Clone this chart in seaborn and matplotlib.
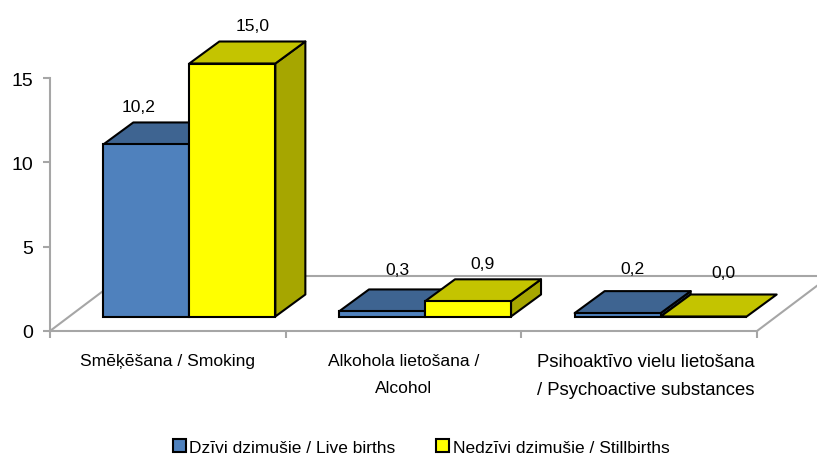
import pandas as pd
import matplotlib.pyplot as plt
import seaborn as sns
from matplotlib.patches import Polygon
from matplotlib.transforms import ScaledTranslation

categories = ['Smēķēšana / Smoking', 'Alkohola lietošana /\nAlcohol',
              'Psihoaktīvo vielu lietošana\n/ Psychoactive substances']
live_births = [10.2, 0.3, 0.2]
stillbirths = [15.0, 0.9, 0.0]
series_names = ['Dzīvi dzimušie / Live births', 'Nedzīvi dzimušie / Stillbirths']
value_labels = [['10,2', '0,3', '0,2'], ['15,0', '0,9', '0,0']]

sns.set_theme(style='white')
plt.rcParams['font.family'] = ['Liberation Sans', 'DejaVu Sans']
plt.rcParams['text.color'] = 'black'
plt.rcParams['xtick.labelcolor'] = 'black'
plt.rcParams['ytick.labelcolor'] = 'black'

df = pd.DataFrame({
    'category': categories * 2,
    'series': [series_names[0]] * 3 + [series_names[1]] * 3,
    'value': live_births + stillbirths,
})

W, H = 817, 456
fig = plt.figure(figsize=(W / 100, H / 100), dpi=100)
ax = fig.add_axes([50 / W, (H - 332) / H, 707 / W, 253 / H])

sns.barplot(data=df, x='category', y='value', hue='series', order=categories,
            palette=['#4F81BD', '#FFFF00'], saturation=1, width=0.73, gap=0,
            errorbar=None, edgecolor='black', linewidth=1.5, ax=ax)

ax.set_xlim(-0.5, 2.5)
ax.set_ylim(0, 15)
ax.set_xlabel('')
ax.set_ylabel('')

# pseudo 3d: one category = 235.67 px, one unit = 16.87 px
px_x = 3 / 707
px_y = 15 / 253
floor_dx, floor_dy = 73 * px_x, 55 * px_y     # full floor depth
shift_x, shift_y = 21.5 * px_x, 14.5 * px_y   # where the bars stand on it
depth_x, depth_y = 30 * px_x, 22 * px_y       # bar depth
grey = '#A6A6A6'

for xs, ys in [([-0.5, -0.5 + floor_dx], [0, floor_dy]),
               ([2.5, 2.5 + floor_dx], [0, floor_dy]),
               ([-0.5 + floor_dx, 2.5 + floor_dx], [floor_dy, floor_dy])]:
    ax.plot(xs, ys, color=grey, lw=1.5, clip_on=False, zorder=1)

top_colors = ['#3E6491', '#C4C400']
side_colors = ['#2F4D70', '#A6A600']
label_nudge = [[(-8, 16), (15, 20), (15, 23)], [(20, 16), (15, 16), (20, 22)]]

for s, container in enumerate(ax.containers):
    for c, bar in enumerate(container):
        x0 = bar.get_x() + shift_x
        w = bar.get_width()
        h = bar.get_height()
        bar.set_x(x0)
        bar.set_y(shift_y)
        bar.set_zorder(2.5 + 2 * s)
        bar.set_clip_on(False)
        y1 = shift_y + h
        top = [(x0, y1), (x0 + depth_x, y1 + depth_y),
               (x0 + w + depth_x, y1 + depth_y), (x0 + w, y1)]
        side = [(x0 + w, shift_y), (x0 + w, y1),
                (x0 + w + depth_x, y1 + depth_y), (x0 + w + depth_x, shift_y + depth_y)]
        for pts, col in [(side, side_colors[s]), (top, top_colors[s])]:
            if pts is side and h == 0:
                continue
            ax.add_patch(Polygon(pts, closed=True, facecolor=col, edgecolor='black',
                                 lw=1.5, zorder=2 + 2 * s, clip_on=False,
                                 joinstyle='round'))
        nx, ny = label_nudge[s][c]
        ax.annotate(value_labels[s][c], (x0 + w / 2, y1 + depth_y),
                    xytext=(nx * 0.72, ny * 0.72), textcoords='offset points',
                    ha='center', va='center', fontsize=12.6, color='black', zorder=8,
                    annotation_clip=False)

sns.despine(ax=ax)
for side_name in ['left', 'bottom']:
    ax.spines[side_name].set_color(grey)
    ax.spines[side_name].set_linewidth(1.5)

ax.set_yticks([0, 5, 10, 15])
ax.tick_params(axis='y', length=5, width=1.5, color=grey, labelsize=14, pad=7, left=True)
ax.set_xticks([-0.5, 0.5, 1.5, 2.5])
ax.set_xticklabels([])
ax.set_xticks([0, 1, 2], labels=categories, minor=True)
ax.tick_params(axis='x', which='major', length=5, width=1.5, color=grey, bottom=True)
ax.tick_params(axis='x', which='minor', length=0, labelsize=12.6, pad=16)
for lab in ax.get_xticklabels(minor=True):
    lab.set_linespacing(1.95)
    lab.set_verticalalignment('top')
third = ax.get_xticklabels(minor=True)[2]
third.set_fontsize(13.3)
third.set_linespacing(1.85)
third.set_transform(third.get_transform() + ScaledTranslation(7 / 100, 0, fig.dpi_scale_trans))

handles, labels = ax.get_legend_handles_labels()
ax.legend(handles, series_names, loc='center', bbox_to_anchor=(421 / W, (H - 448) / H),
          bbox_transform=fig.transFigure, ncol=2, frameon=False, fontsize=12.5,
          handlelength=0.75, handleheight=0.75, handletextpad=0.2, columnspacing=2.35,
          borderpad=0)

fig.savefig('out.png', dpi=100)
